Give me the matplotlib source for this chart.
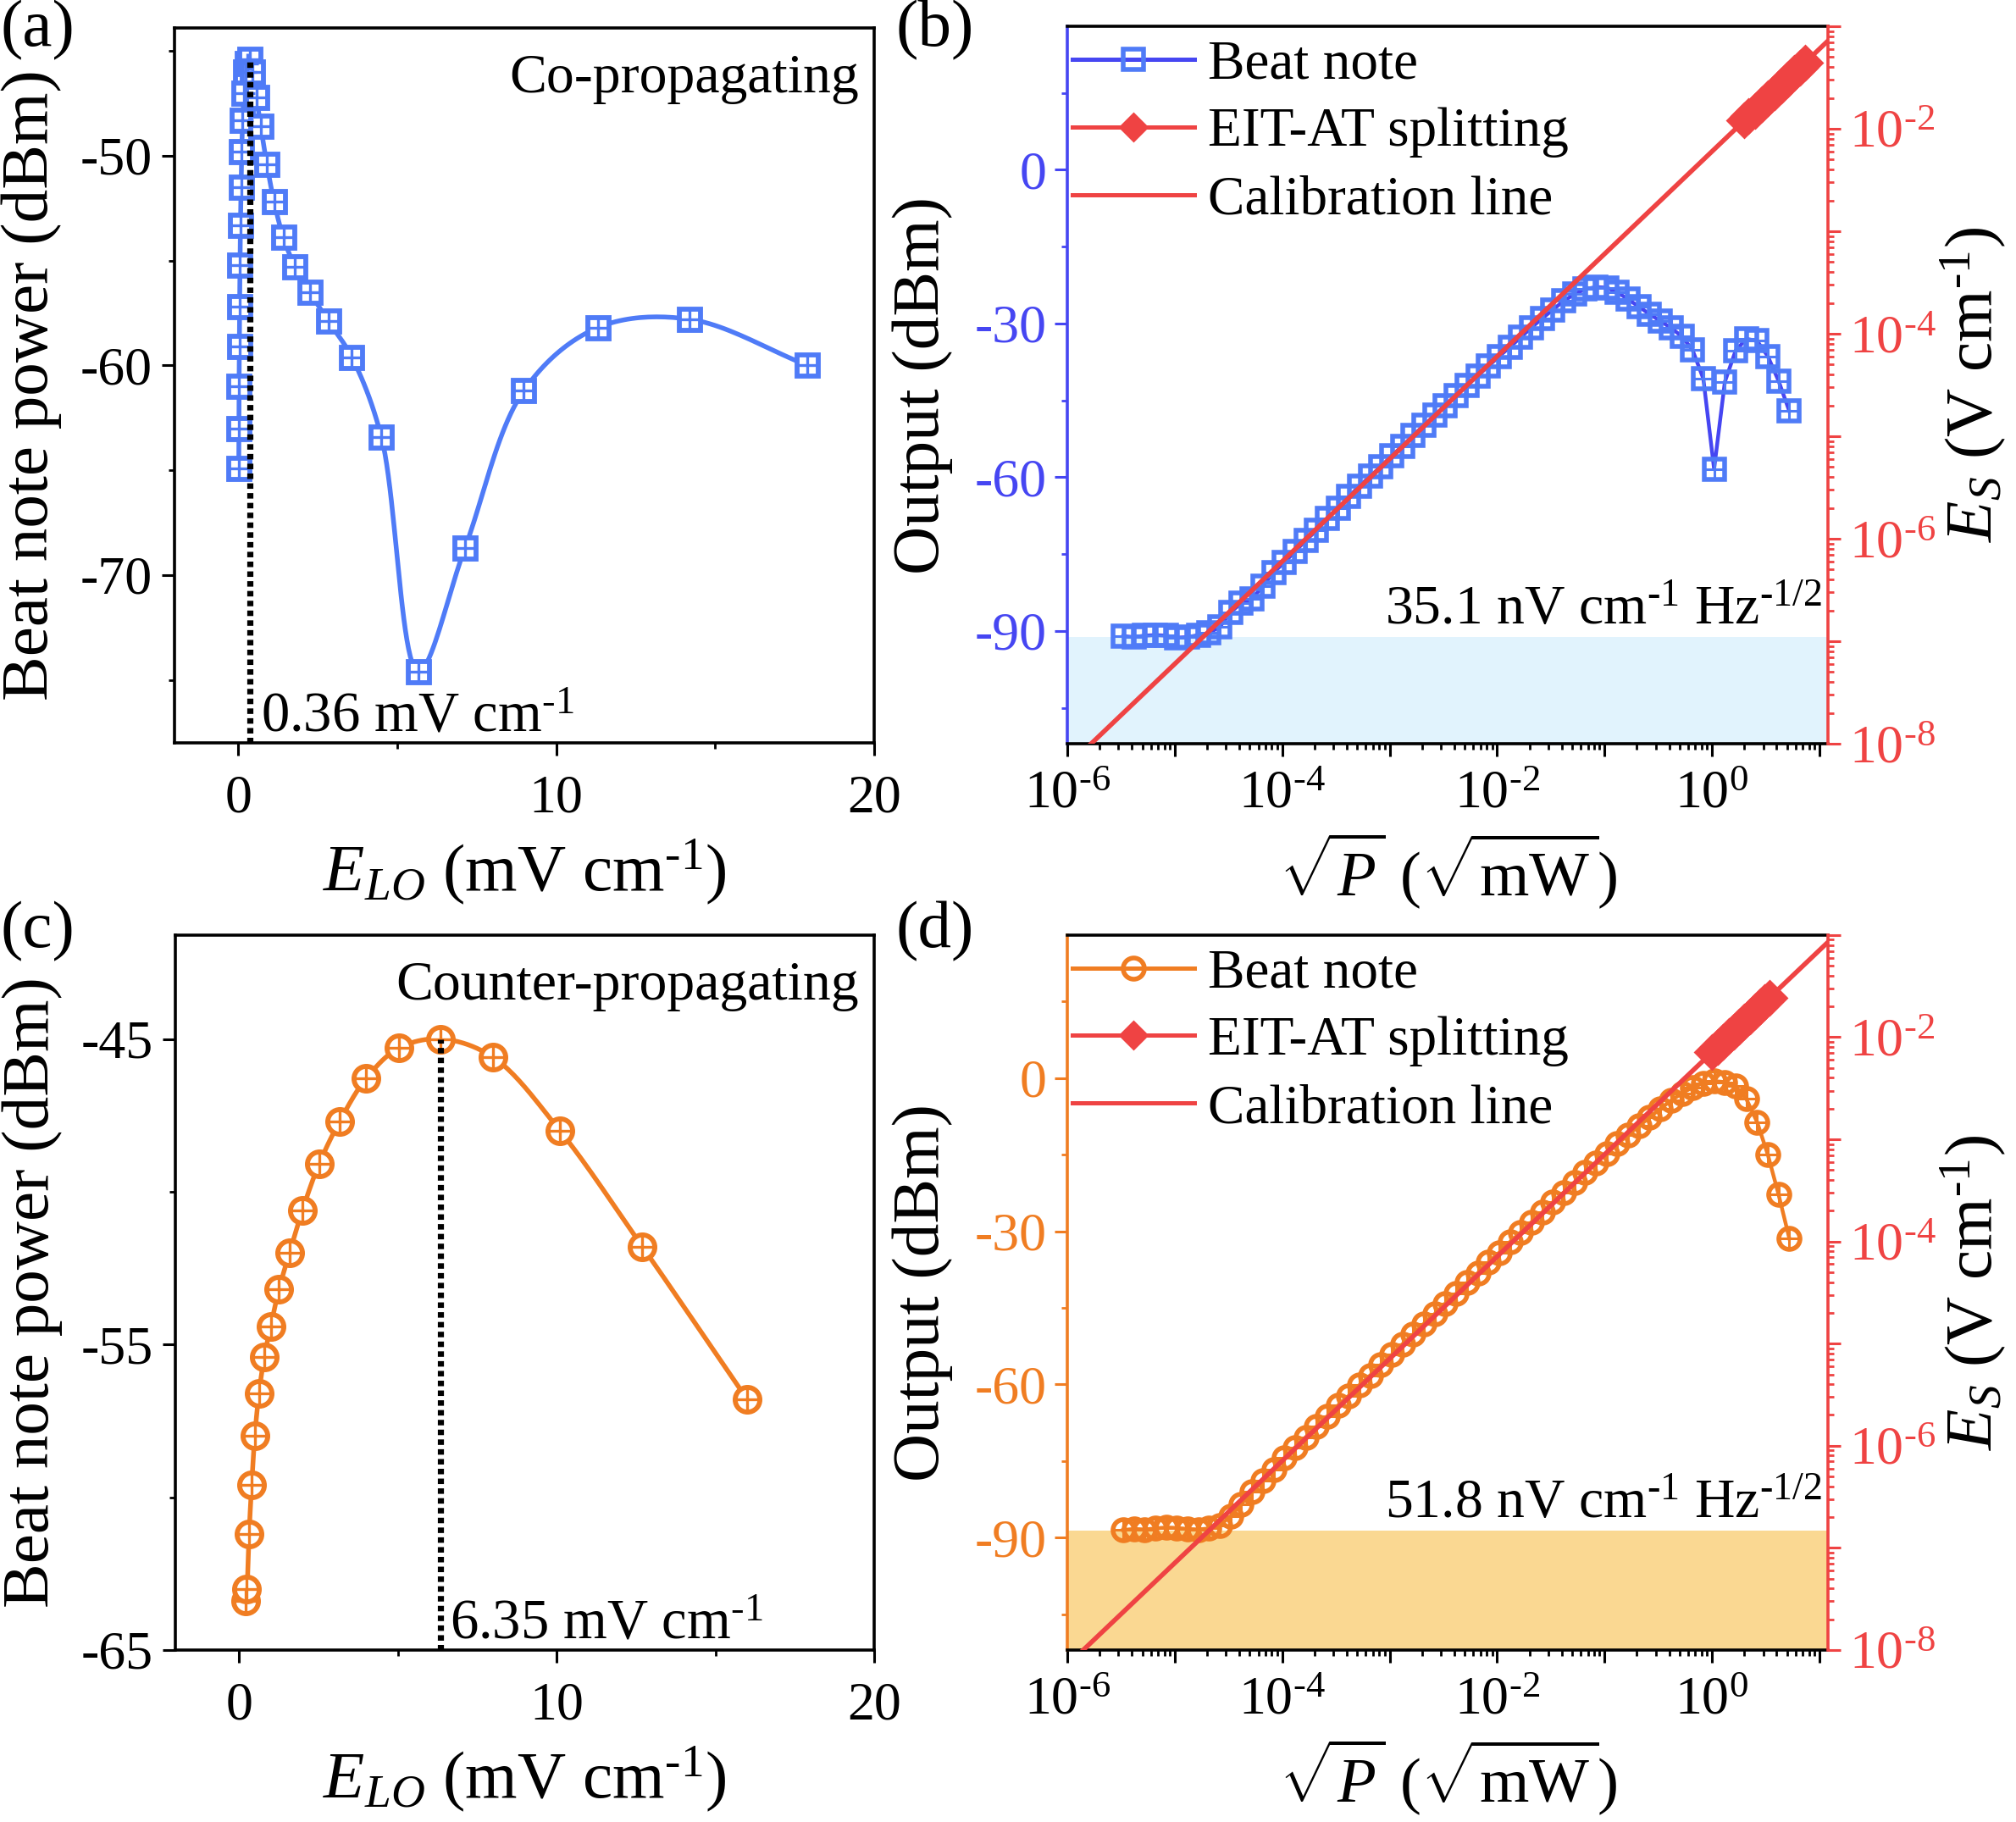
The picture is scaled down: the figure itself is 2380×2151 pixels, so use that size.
import numpy as np
import matplotlib
matplotlib.use('Agg')
import matplotlib.pyplot as plt
from matplotlib.ticker import MultipleLocator, FixedLocator, LogLocator, FuncFormatter, NullFormatter

plt.rcParams['font.family'] = ['Liberation Serif', 'DejaVu Serif']
plt.rcParams['mathtext.fontset'] = 'custom'
plt.rcParams['mathtext.rm'] = 'Liberation Serif'
plt.rcParams['mathtext.it'] = 'Liberation Serif:italic'
plt.rcParams['mathtext.bf'] = 'Liberation Serif:bold'
plt.rcParams['axes.unicode_minus'] = False

# (a) co-propagating: LO field (mV/cm) vs beat note power (dBm)
e_lo_co = [0.018, 0.022, 0.028, 0.036, 0.045, 0.057, 0.071, 0.09, 0.11, 0.14,
           0.18, 0.23, 0.28, 0.36, 0.45, 0.57, 0.71, 0.9, 1.13, 1.42,
           1.79, 2.25, 2.84, 3.57, 4.5, 5.66, 7.13, 8.98, 11.3, 14.2, 17.9]
power_co = [-64.9, -63.0, -61.0, -59.1, -57.2, -55.2, -53.3, -51.5, -49.8, -48.3,
            -47.0, -46.0, -45.6, -45.4, -46.0, -47.2, -48.6, -50.4, -52.2, -53.9,
            -55.3, -56.5, -57.9, -59.6, -63.4, -74.6, -68.7, -61.2, -58.2, -57.8, -60.0]
peak_co = (0.36, -45.4)

# (c) counter-propagating
e_lo_counter = [0.2, 0.25, 0.32, 0.4, 0.5, 0.63, 0.8, 1.0, 1.26, 1.59,
                2.0, 2.52, 3.17, 4.0, 5.03, 6.35, 8.0, 10.1, 12.7, 16.0]
power_counter = [-63.4, -63.0, -61.2, -59.6, -58.0, -56.6, -55.4, -54.4, -53.2, -52.0,
                 -50.6, -49.1, -47.7, -46.3, -45.3, -45.0, -45.6, -48.0, -51.8, -56.8]
peak_counter = (6.35, -45.0)

# (b), (d): log10 of sqrt(P) in sqrt(mW)
log_sqrt_p = [-5.48, -5.38, -5.28, -5.18, -5.08, -4.98, -4.88, -4.78, -4.68, -4.58,
              -4.48, -4.38, -4.28, -4.18, -4.08, -3.98, -3.88, -3.78, -3.68, -3.58,
              -3.48, -3.38, -3.28, -3.18, -3.08, -2.98, -2.88, -2.78, -2.68, -2.58,
              -2.48, -2.38, -2.28, -2.18, -2.08, -1.98, -1.88, -1.78, -1.68, -1.58,
              -1.48, -1.38, -1.28, -1.18, -1.08, -0.98, -0.88, -0.78, -0.68, -0.58,
              -0.48, -0.38, -0.28, -0.18, -0.08, 0.02, 0.12, 0.22, 0.32, 0.42,
              0.52, 0.62, 0.72]
output_co = [-91.0, -91.2, -90.9, -90.8, -90.9, -91.3, -91.2, -90.8, -90.4, -89.2,
             -86.3, -84.6, -83.8, -81.2, -78.6, -76.6, -74.5, -72.3, -70.4, -68.0,
             -66.1, -63.8, -61.7, -59.8, -57.9, -55.8, -53.9, -51.8, -49.9, -47.9,
             -46.0, -44.0, -42.1, -40.2, -38.3, -36.4, -34.6, -32.7, -30.8, -29.0,
             -27.3, -25.6, -24.3, -23.3, -22.9, -23.0, -23.9, -25.3, -26.7, -28.2,
             -29.5, -30.9, -32.5, -35.2, -40.8, -58.4, -41.4, -35.3, -33.0, -33.4,
             -36.4, -41.2, -47.1]
output_counter = [-88.5, -88.3, -88.4, -88.2, -88.0, -88.1, -88.3, -88.4, -88.2, -87.6,
                  -85.8, -83.4, -81.0, -78.8, -76.6, -74.4, -72.3, -70.3, -68.2, -66.2,
                  -64.1, -62.2, -60.1, -58.2, -56.1, -54.2, -52.1, -50.2, -48.1, -46.2,
                  -44.1, -42.2, -40.1, -38.2, -36.1, -34.2, -32.1, -30.2, -28.2, -26.3,
                  -24.3, -22.4, -20.4, -18.5, -16.6, -14.8, -12.9, -11.1, -9.4, -7.7,
                  -6.0, -4.4, -3.0, -1.8, -1.0, -0.6, -0.8, -1.6, -4.1, -8.6,
                  -15.0, -22.8, -31.4]

noise_floor_co = -91.1
noise_floor_counter = -88.6
cal_slope_co = 6.0e-3        # E_S per sqrt(mW), V/cm
cal_slope_counter = 7.1e-3

eit_sqrt_p_co = [2.0, 2.2, 2.5, 2.9, 3.3, 3.8, 4.4, 5.0, 5.8, 6.6, 7.3]
eit_es_co = [0.0120, 0.0132, 0.0150, 0.0174, 0.0198, 0.0228, 0.0264, 0.0300, 0.0348, 0.0396, 0.0438]
eit_sqrt_p_counter = [1.0, 1.13, 1.27, 1.43, 1.6, 1.8, 2.0, 2.25, 2.5, 2.8, 3.1, 3.45]
eit_es_counter = [0.0071, 0.0080, 0.0090, 0.0102, 0.0114, 0.0128, 0.0142, 0.0160, 0.0178, 0.0199, 0.0220, 0.0245]

sens_co = r'35.1 nV cm$^{\text{-1}}$ Hz$^{\text{-1/2}}$'
sens_counter = r'51.8 nV cm$^{\text{-1}}$ Hz$^{\text{-1/2}}$'

BLUE = '#4F7BF7'
BLUE_LINE = '#4646F2'
ORANGE = '#F07D22'
RED = '#EF4343'
TICK_FS = 23
TEXT_FS = 23.7
LABEL_FS = 28.5
LEG_FS = 23.5


def smooth(x, y, span, n=24):
    # centripetal Catmull-Rom through the points (drawing only)
    p = np.column_stack([x, y]) / np.array(span)
    p = np.vstack([2 * p[0] - p[1], p, 2 * p[-1] - p[-2]])
    out = []
    for i in range(1, len(p) - 2):
        p0, p1, p2, p3 = p[i - 1], p[i], p[i + 1], p[i + 2]
        t0 = 0.0
        t1 = t0 + np.linalg.norm(p1 - p0) ** 0.5
        t2 = t1 + np.linalg.norm(p2 - p1) ** 0.5
        t3 = t2 + np.linalg.norm(p3 - p2) ** 0.5
        t = np.linspace(t1, t2, n)[:, None]
        a1 = (t1 - t) / (t1 - t0) * p0 + (t - t0) / (t1 - t0) * p1
        a2 = (t2 - t) / (t2 - t1) * p1 + (t - t1) / (t2 - t1) * p2
        a3 = (t3 - t) / (t3 - t2) * p2 + (t - t2) / (t3 - t2) * p3
        b1 = (t2 - t) / (t2 - t0) * a1 + (t - t0) / (t2 - t0) * a2
        b2 = (t3 - t) / (t3 - t1) * a2 + (t - t1) / (t3 - t1) * a3
        out.append((t2 - t) / (t2 - t1) * b1 + (t - t1) / (t2 - t1) * b2)
    c = np.vstack(out) * np.array(span)
    return c[:, 0], c[:, 1]


def even_decades(v, pos):
    e = int(round(np.log10(v)))
    if e % 2:
        return ''
    return r'$10^{\text{%d}}$' % e


def style_ticks(ax, axis='both', color='k'):
    ax.tick_params(axis=axis, which='major', direction='out', length=5.4, width=1.1,
                   labelsize=TICK_FS, color=color, labelcolor=color)
    ax.tick_params(axis=axis, which='minor', direction='out', length=2.6, width=1.0, color=color)


fig = plt.figure(figsize=(11.9, 10.755), dpi=200)


def field_panel(rect, x, y, color, marker, ms, ylim, ymajor, yminor, peak, title, note, note_x):
    ax = fig.add_axes(rect)
    sx, sy = smooth(x, y, (22, ylim[1] - ylim[0]))
    ax.plot(sx, sy, color=color, lw=2.0, zorder=2)
    ax.plot(x, y, ls='none', marker=marker, ms=ms, mfc='white', mec=color, mew=2.1, zorder=3)
    ax.plot(x, y, ls='none', marker='+', ms=ms, mec=color, mew=1.2, zorder=4)
    ax.plot([peak[0], peak[0]], [ylim[0], peak[1]], color='k', lw=2.6, ls=(0, (0.9, 0.7)), zorder=5)
    ax.set_xlim(-2, 20)
    ax.set_ylim(*ylim)
    ax.xaxis.set_major_locator(MultipleLocator(10))
    ax.xaxis.set_minor_locator(MultipleLocator(5))
    ax.yaxis.set_major_locator(FixedLocator(ymajor))
    ax.yaxis.set_minor_locator(FixedLocator(yminor))
    style_ticks(ax)
    ax.tick_params(axis='x', which='major', pad=8)
    ax.tick_params(axis='y', which='major', pad=4)
    for s in ax.spines.values():
        s.set_linewidth(1.3)
    ax.text(0.978, 0.91, title, transform=ax.transAxes, ha='right', va='baseline', fontsize=TEXT_FS)
    ax.text(note_x, 0.016, note, transform=ax.transAxes, ha='left', va='baseline', fontsize=24)
    ax.text(-0.205, 0.5, 'Beat note power (dBm)', transform=ax.transAxes, rotation=90,
            ha='center', va='center', fontsize=LABEL_FS)
    ax.text(0.5, -0.18, r'$E_{LO}$ (mV cm$^{\text{-1}}$)', transform=ax.transAxes,
            ha='center', va='center', fontsize=LABEL_FS)
    return ax


def power_panel(rect, out, lcolor, mcolor, marker, ms, floor, fill, k, eit_x, eit_y, note, note_y):
    ax = fig.add_axes(rect)
    sp = 10 ** np.array(log_sqrt_p)
    ax.axhspan(-112, floor, color=fill, lw=0, zorder=0)
    ax.plot(sp, out, color=lcolor, lw=1.6, marker=marker, ms=ms, mfc='none', mec=mcolor,
            mew=2.0, label='Beat note', zorder=2)
    ax.plot(sp, out, ls='none', marker='+', ms=ms, mec=mcolor, mew=1.1, zorder=2)
    ax.set_xscale('log')
    ax.set_xlim(1e-6, 12)
    ax.set_ylim(-112, 28)
    ax.yaxis.set_major_locator(MultipleLocator(30))
    ax.yaxis.set_minor_locator(MultipleLocator(15))
    ax.xaxis.set_major_locator(LogLocator(base=10, subs=(1.0,), numticks=20))
    ax.xaxis.set_minor_locator(LogLocator(base=10, subs=np.arange(2, 10), numticks=20))
    ax.xaxis.set_major_formatter(FuncFormatter(even_decades))
    ax.xaxis.set_minor_formatter(NullFormatter())
    style_ticks(ax, 'x')
    style_ticks(ax, 'y', lcolor)
    ax.tick_params(axis='x', which='major', pad=6)
    ax.spines['left'].set_color(lcolor)
    ax.spines['right'].set_visible(False)
    for s in ax.spines.values():
        s.set_linewidth(1.3)

    ax2 = ax.twinx()
    ax2.set_yscale('log')
    ax2.set_ylim(1e-8, 1e-1)
    xl = np.array(ax.get_xlim())
    ax2.plot(xl, k * xl, color=RED, lw=2.0, label='Calibration line', zorder=3)
    ax2.plot(eit_x, eit_y, color=RED, lw=1.4, marker='D', ms=10, mec=RED, mfc=RED,
             label='EIT-AT splitting', zorder=4)
    ax2.yaxis.set_major_locator(LogLocator(base=10, subs=(1.0,), numticks=20))
    ax2.yaxis.set_minor_locator(LogLocator(base=10, subs=np.arange(2, 10), numticks=20))
    ax2.yaxis.set_major_formatter(FuncFormatter(even_decades))
    ax2.yaxis.set_minor_formatter(NullFormatter())
    style_ticks(ax2, 'y', RED)
    ax2.set_xlim(ax.get_xlim())
    for name in ('left', 'top', 'bottom'):
        ax2.spines[name].set_visible(False)
    ax2.spines['right'].set_color(RED)
    ax2.spines['right'].set_linewidth(1.3)

    h1, l1 = ax.get_legend_handles_labels()
    h2, l2 = ax2.get_legend_handles_labels()
    handles = [h1[0], h2[1], h2[0]]
    labels = [l1[0], l2[1], l2[0]]
    leg = ax2.legend(handles, labels, loc='upper left', bbox_to_anchor=(0.0, 0.989), frameon=False,
                     fontsize=LEG_FS, handlelength=2.2, handletextpad=0.25, labelspacing=0.31,
                     borderpad=0.0, borderaxespad=0.1, markerscale=1.0)
    for h in leg.legend_handles:
        h.set_linewidth(1.8)
    leg.legend_handles[1].set_markersize(8)

    ax.text(0.993, note_y, note, transform=ax.transAxes, ha='right', va='baseline', fontsize=TEXT_FS)
    ax.text(-0.19, 0.5, 'Output (dBm)', transform=ax.transAxes, rotation=90,
            ha='center', va='center', fontsize=LABEL_FS)
    ax2.text(1.19, 0.5, r'$E_S$ (V cm$^{\text{-1}}$)', transform=ax.transAxes, rotation=90,
             ha='center', va='center', fontsize=LABEL_FS)
    ax.text(0.5, -0.178, r'$\sqrt{P}$ ($\sqrt{\mathrm{mW}}$)', transform=ax.transAxes,
            ha='center', va='center', fontsize=27)
    return ax


field_panel([0.0866, 0.5923, 0.3471, 0.3924], e_lo_co, power_co, BLUE, 's', 9.0,
            (-78, -43.9), [-70, -60, -50], [-75, -65, -55, -45], peak_co,
            'Co-propagating', r'0.36 mV cm$^{\text{-1}}$', 0.123)
field_panel([0.0870, 0.0944, 0.3467, 0.3924], e_lo_counter, power_counter, ORANGE, 'o', 10.5,
            (-65, -41.6), [-65, -55, -45], [-60, -50], peak_counter,
            'Counter-propagating', r'6.35 mV cm$^{\text{-1}}$', 0.392)

power_panel([0.5294, 0.5918, 0.3773, 0.3938], output_co, BLUE_LINE, BLUE, 's', 8.5,
            noise_floor_co, '#E1F3FD', cal_slope_co, eit_sqrt_p_co, eit_es_co, sens_co, 0.168)
power_panel([0.5294, 0.0944, 0.3773, 0.3924], output_counter, ORANGE, ORANGE, 'o', 9.0,
            noise_floor_counter, '#FAD892', cal_slope_counter, eit_sqrt_p_counter,
            eit_es_counter, sens_counter, 0.186)

for lab, x, y in [('(a)', 0.0, 1.0), ('(b)', 0.4445, 1.0), ('(c)', 0.0, 0.5055), ('(d)', 0.4445, 0.5055)]:
    fig.text(x, y, lab, ha='left', va='top', fontsize=LABEL_FS)

fig.savefig('out.png', dpi=200)
